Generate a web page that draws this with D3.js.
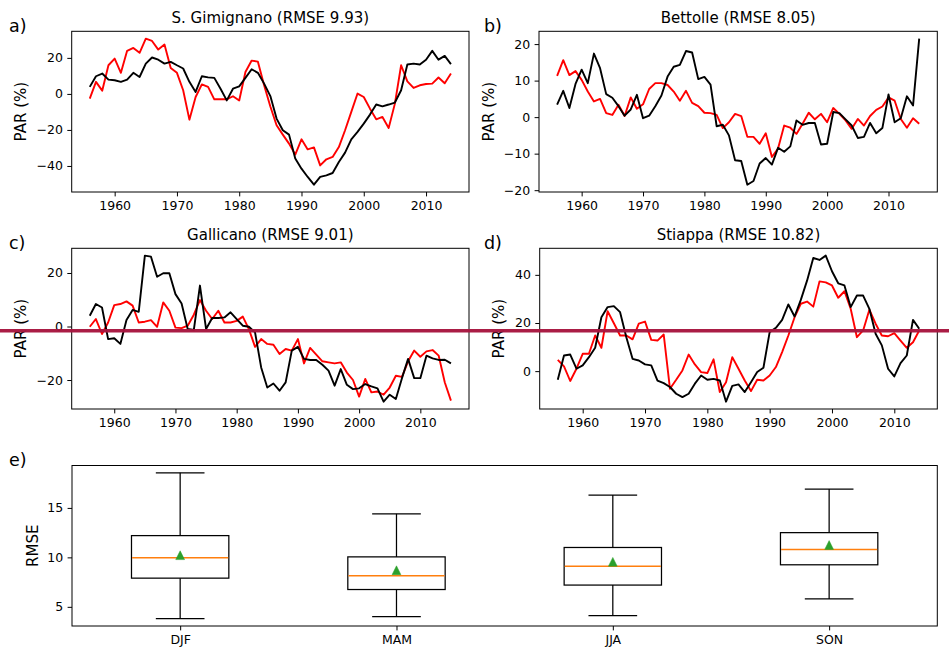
<!DOCTYPE html>
<html><head><meta charset="utf-8">
<script src="https://cdn.jsdelivr.net/npm/d3@7"></script>
<style>
body{margin:0;background:#fff}
svg{display:block}
text{font-family:"DejaVu Sans",sans-serif;fill:#000}
</style>
</head><body>
<svg id="chart" width="949" height="654"></svg>
<script>
// ---------------- DATA ----------------
const years1956_2014 = [1956,1957,1958,1959,1960,1961,1962,1963,1964,1965,1966,1967,1968,1969,1970,1971,1972,1973,1974,1975,1976,1977,1978,1979,1980,1981,1982,1983,1984,1985,1986,1987,1988,1989,1990,1991,1992,1993,1994,1995,1996,1997,1998,1999,2000,2001,2002,2003,2004,2005,2006,2007,2008,2009,2010,2011,2012,2013,2014];
const years1956_2015 = [1956,1957,1958,1959,1960,1961,1962,1963,1964,1965,1966,1967,1968,1969,1970,1971,1972,1973,1974,1975,1976,1977,1978,1979,1980,1981,1982,1983,1984,1985,1986,1987,1988,1989,1990,1991,1992,1993,1994,1995,1996,1997,1998,1999,2000,2001,2002,2003,2004,2005,2006,2007,2008,2009,2010,2011,2012,2013,2014,2015];

// S. Gimignano
const gimignanoBlack = [3.9,9.8,11.3,7.9,7.6,6.7,7.9,11.7,9.4,16.8,20.2,19.0,16.8,17.8,15.9,14.1,6.7,1.1,9.8,9.2,8.9,2.9,-3.6,2.9,4.2,8.9,13.7,11.7,5.7,-1.2,
  -13.7,-20.2,-22.6,-35.9,-41.5,-46.1,-50.4,-46.1,-45.2,-43.9,-37.8,-32.6,-25.2,-21.1,-16.5,-11.5,-5.9,-6.9,-5.9,-4.8,2.0,16.3,16.8,16.3,19.0,23.9,19.0,21.1,16.5];
const gimignanoRed = [-2.6,6.7,1.8,15.9,19.6,11.7,23.9,25.5,22.8,30.7,29.4,24.6,27.4,14.4,11.7,2.0,-14.3,-1.7,5.3,3.9,-3.0,-2.9,-3.0,-1.3,-3.7,12.2,18.5,17.9,4.8,-7.0,
  -17.4,-22.6,-27.6,-33.7,-25.2,-30.8,-29.7,-39.7,-36.3,-35.0,-29.5,-20.2,-10.0,0.2,-1.7,-8.2,-14.1,-12.8,-18.9,-5.4,15.9,7.0,3.3,4.8,5.5,5.7,9.1,5.9,11.3];

// Bettolle
const bettolleBlack = [3.4,7.2,2.5,9.1,13.0,9.3,17.4,13.4,6.3,5.3,3.0,0.4,2.1,6.1,-0.3,0.4,3.0,5.9,11.1,13.8,14.3,18.1,17.7,10.4,11.0,8.9,-2.5,-2.1,-5.0,-11.8,
  -12.0,-18.5,-17.5,-12.7,-11.2,-13.0,-8.4,-9.5,-8.0,-0.9,-2.1,-1.6,-1.6,-7.5,-7.3,1.4,1.1,-0.6,-2.3,-5.7,-5.4,-1.6,-4.4,-3.0,6.2,-1.4,-0.3,5.7,3.2,21.5];
const bettolleRed = [11.3,15.6,11.5,12.6,10.2,7.0,4.3,5.0,1.1,0.6,3.4,0.3,5.4,2.3,3.5,7.7,9.3,9.3,8.8,7.0,4.5,7.2,3.9,3.0,1.2,1.1,0.6,-3.0,-1.4,0.9,
  0.3,-5.4,-5.4,-7.3,-4.4,-10.9,-8.6,-2.3,-2.9,-4.6,-1.8,1.2,-0.6,0.9,-1.4,2.5,0.9,-0.9,-3.2,-0.5,-2.3,0.3,2.0,2.9,5.4,4.5,-0.5,-2.9,-0.3,-1.8];

// Gallicano
const gallicanoBlack = [4.0,8.4,7.1,-4.7,-4.4,-6.5,2.4,6.2,5.5,26.5,26.1,18.6,19.9,19.9,12.1,8.6,-0.9,-1.3,15.3,-0.9,3.2,3.2,3.4,5.3,2.8,0.3,-0.1,-2.2,-15.3,-22.8,
  -21.3,-24.0,-20.9,-9.0,-7.6,-12.1,-12.5,-12.5,-14.3,-16.5,-22.1,-15.9,-21.8,-23.4,-23.1,-21.5,-22.4,-23.1,-28.1,-25.5,-27.1,-19.3,-12.1,-19.3,-19.3,-10.9,-11.9,-12.5,-12.4,-13.8];
const gallicanoRed = [-0.1,2.8,-2.8,1.5,8.0,8.4,9.4,7.8,1.5,1.8,2.4,-0.1,9.0,5.9,-0.4,-0.6,0.3,4.4,9.9,5.9,2.8,5.9,1.5,1.5,2.1,3.7,-1.0,-7.6,-4.7,-6.5,
  -6.8,-10.3,-8.4,-9.0,-4.7,-13.8,-8.0,-10.5,-13.0,-13.4,-13.8,-13.4,-17.2,-20.0,-26.2,-19.6,-24.6,-24.3,-25.5,-22.8,-18.4,-18.8,-13.0,-9.0,-11.3,-9.3,-8.8,-10.9,-20.9,-27.7];

// Stiappa
const stiappaBlack = [-3.6,6.5,6.9,1.0,2.4,5.8,9.7,22.4,26.6,27.0,24.5,14.1,5.1,4.4,2.8,2.4,-3.9,-5.0,-6.6,-9.4,-10.8,-9.4,-5.2,-1.8,-3.6,-3.2,-3.9,-12.7,-6.1,-5.5,
  -8.7,-4.6,-0.4,1.4,16.2,18.0,21.3,27.7,22.7,29.6,37.6,47.0,46.2,48.0,41.5,36.5,35.6,26.6,31.4,31.4,25.9,15.5,10.7,1.0,-2.2,3.3,6.5,21.3,17.6];
const stiappaRed = [4.7,2.0,-4.1,1.0,7.2,7.2,14.8,9.7,24.9,19.9,14.8,14.8,13.2,19.7,20.6,13.0,12.7,15.2,-7.3,-3.6,0.3,6.9,2.8,-0.4,-0.8,4.9,-8.7,-4.6,5.8,1.0,
  -3.9,-8.3,-3.6,-3.9,-1.8,1.7,7.9,14.8,22.4,28.0,28.9,26.8,37.3,36.9,35.6,30.5,33.2,25.9,14.1,16.9,25.5,19.7,14.8,14.5,15.8,12.7,9.7,12.0,16.9];

const xTickYears = [1960,1970,1980,1990,2000,2010];
const yTicksA = [-40,-20,0,20];
const yTicksB = [-20,-10,0,10,20];
const yTicksC = [-20,0,20];
const yTicksD = [0,20,40];

// Box plot (panel e)
const seasons = ["DJF","MAM","JJA","SON"];
const whiskerLow = [3.8,4.0,4.1,5.8];
const quart1 = [7.9,6.75,7.2,9.25];
const medians = [9.97,8.15,9.1,10.8];
const quart3 = [12.2,10.05,11.0,12.5];
const whiskerHigh = [18.55,14.4,16.3,16.9];
const means = [10.22,8.7,9.55,11.25];
const yTicksE = [5,10,15];

// reference line (value on the Gallicano panel's scale)
const refLineGallicano = -1.6;

// ---------------- LAYOUT ----------------
const svg = d3.select("#chart");
const FS_TICK = 12.5, FS_TITLE = 15, FS_LABEL = 15, FS_LETTER = 17.5;
const TICK_LEN = 4.4, TICK_PAD = 4.4;

const panels = [
  {letter:"a)", title:"S. Gimignano (RMSE 9.93)", years:years1956_2014, black:gimignanoBlack, red:gimignanoRed, yTicks:yTicksA,
   x0:71.7, x1:469, y0:31.3, y1:192, labelX:26.3, letterX:9},
  {letter:"b)", title:"Bettolle (RMSE 8.05)", years:years1956_2015, black:bettolleBlack, red:bettolleRed, yTicks:yTicksB,
   x0:539, x1:937.3, y0:31.3, y1:192, labelX:494, letterX:484},
  {letter:"c)", title:"Gallicano (RMSE 9.01)", years:years1956_2015, black:gallicanoBlack, red:gallicanoRed, yTicks:yTicksC,
   x0:71.7, x1:469, y0:248.3, y1:409, labelX:26.3, letterX:9},
  {letter:"d)", title:"Stiappa (RMSE 10.82)", years:years1956_2014, black:stiappaBlack, red:stiappaRed, yTicks:yTicksD,
   x0:539.7, x1:937.3, y0:248.3, y1:409, labelX:504, letterX:484}
];

function padExtent(arr){
  const [lo,hi] = d3.extent(arr);
  const m = (hi-lo)*0.05;
  return [lo-m, hi+m];
}

function styleAxis(g){
  g.select(".domain").remove();
  g.selectAll(".tick line").attr("stroke","#000").attr("stroke-width",1);
  g.selectAll(".tick text").attr("font-size",FS_TICK).attr("font-family","DejaVu Sans, sans-serif").attr("fill","#000");
  g.attr("font-size",null).attr("font-family",null);
}

const scales = {};
panels.forEach((p,i)=>{
  const x = d3.scaleLinear().domain(padExtent(p.years)).range([p.x0,p.x1]);
  const y = d3.scaleLinear().domain(padExtent(p.black.concat(p.red))).range([p.y1,p.y0]);
  scales[i] = {x,y};
  const g = svg.append("g");

  const line = d3.line().x((d,k)=>x(p.years[k])).y(d=>y(d));
  g.append("path").datum(p.red).attr("d",line).attr("fill","none").attr("stroke","#ff0000")
    .attr("stroke-width",1.9).attr("stroke-linejoin","round");
  g.append("path").datum(p.black).attr("d",line).attr("fill","none").attr("stroke","#000000")
    .attr("stroke-width",1.9).attr("stroke-linejoin","round");

  g.append("rect").attr("x",p.x0).attr("y",p.y0).attr("width",p.x1-p.x0).attr("height",p.y1-p.y0)
    .attr("fill","none").attr("stroke","#000").attr("stroke-width",1);

  g.append("g").attr("transform",`translate(0,${p.y1})`)
    .call(d3.axisBottom(x).tickValues(xTickYears).tickFormat(d3.format("d")).tickSize(TICK_LEN).tickPadding(TICK_PAD))
    .call(styleAxis);
  g.append("g").attr("transform",`translate(${p.x0},0)`)
    .call(d3.axisLeft(y).tickValues(p.yTicks).tickFormat(d3.format("d")).tickSize(TICK_LEN).tickPadding(TICK_PAD))
    .call(styleAxis);

  g.append("text").attr("x",(p.x0+p.x1)/2).attr("y",p.y0-8.6).attr("text-anchor","middle")
    .attr("font-size",FS_TITLE).text(p.title);
  g.append("text").attr("transform",`translate(${p.labelX},${(p.y0+p.y1)/2}) rotate(-90)`)
    .attr("text-anchor","middle").attr("font-size",FS_LABEL).text("PAR (%)");
  g.append("text").attr("x",p.letterX).attr("y",p.y0+0.8).attr("font-size",FS_LETTER).text(p.letter);
});

// ---------------- PANEL E: box plot ----------------
const E = {x0:72, x1:937.3, y0:465.5, y1:626};
const xE = d3.scaleLinear().domain([0.5,4.5]).range([E.x0,E.x1]);
const yE = d3.scaleLinear().domain(padExtent(whiskerLow.concat(whiskerHigh))).range([E.y1,E.y0]);
const ge = svg.append("g");
const boxW = 0.45, capW = 0.225;
seasons.forEach((s,i)=>{
  const c = i+1;
  const cx = xE(c);
  ge.append("line").attr("x1",cx).attr("x2",cx).attr("y1",yE(whiskerLow[i])).attr("y2",yE(quart1[i])).attr("stroke","#000").attr("stroke-width",1.25);
  ge.append("line").attr("x1",cx).attr("x2",cx).attr("y1",yE(quart3[i])).attr("y2",yE(whiskerHigh[i])).attr("stroke","#000").attr("stroke-width",1.25);
  [whiskerLow[i],whiskerHigh[i]].forEach(v=>{
    ge.append("line").attr("x1",xE(c-capW/2)).attr("x2",xE(c+capW/2)).attr("y1",yE(v)).attr("y2",yE(v)).attr("stroke","#000").attr("stroke-width",1.25);
  });
  ge.append("rect").attr("x",xE(c-boxW/2)).attr("width",xE(c+boxW/2)-xE(c-boxW/2))
    .attr("y",yE(quart3[i])).attr("height",yE(quart1[i])-yE(quart3[i]))
    .attr("fill","none").attr("stroke","#000").attr("stroke-width",1.25);
  ge.append("line").attr("x1",xE(c-boxW/2)+0.6).attr("x2",xE(c+boxW/2)-0.6).attr("y1",yE(medians[i])).attr("y2",yE(medians[i]))
    .attr("stroke","#ff7f0e").attr("stroke-width",1.5);
  const my = yE(means[i]), h = 4.4;
  ge.append("path").attr("d",`M${cx},${my-h}L${cx-h},${my+h}L${cx+h},${my+h}Z`).attr("fill","#2ca02c").attr("stroke","#2ca02c").attr("stroke-width",0.5);
});
ge.append("rect").attr("x",E.x0).attr("y",E.y0).attr("width",E.x1-E.x0).attr("height",E.y1-E.y0)
  .attr("fill","none").attr("stroke","#000").attr("stroke-width",1);
ge.append("g").attr("transform",`translate(0,${E.y1})`)
  .call(d3.axisBottom(xE).tickValues([1,2,3,4]).tickFormat(d=>seasons[d-1]).tickSize(TICK_LEN).tickPadding(TICK_PAD))
  .call(styleAxis);
ge.append("g").attr("transform",`translate(${E.x0},0)`)
  .call(d3.axisLeft(yE).tickValues(yTicksE).tickFormat(d3.format("d")).tickSize(TICK_LEN).tickPadding(TICK_PAD))
  .call(styleAxis);
ge.append("text").attr("transform",`translate(37.5,${(E.y0+E.y1)/2}) rotate(-90)`)
  .attr("text-anchor","middle").attr("font-size",FS_LABEL).text("RMSE");
ge.append("text").attr("x",9).attr("y",E.y0+0.8).attr("font-size",FS_LETTER).text("e)");

// ---------------- reference line across the figure ----------------
const yRef = scales[2].y(refLineGallicano);
svg.append("line").attr("x1",0).attr("x2",949).attr("y1",yRef).attr("y2",yRef)
  .attr("stroke","#a8163f").attr("stroke-width",3.6).attr("opacity",0.97);
</script>
</body></html>
